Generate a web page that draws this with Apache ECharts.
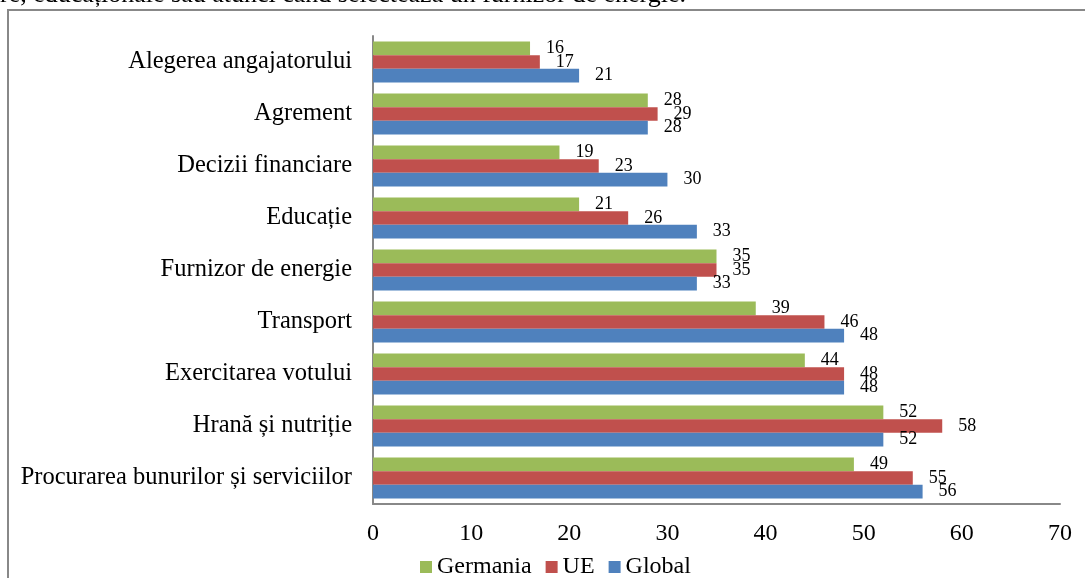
<!DOCTYPE html>
<html>
<head>
<meta charset="utf-8">
<script src="https://cdn.jsdelivr.net/npm/echarts@6/dist/echarts.min.js"></script>
<style>
  html, body { margin: 0; padding: 0; background: #fff; }
  #chart { width: 1085px; height: 578px; }
</style>
</head>
<body>
<div id="chart"></div>
<script>
// categories, top to bottom
const categories = [
    'Alegerea angajatorului',
    'Agrement',
    'Decizii financiare',
    'Educație',
    'Furnizor de energie',
    'Transport',
    'Exercitarea votului',
    'Hrană și nutriție',
    'Procurarea bunurilor și serviciilor'
];
const germania = [16, 28, 19, 21, 35, 39, 44, 52, 49];
const ue = [17, 29, 23, 26, 35, 46, 48, 58, 55];
const globalVals = [21, 28, 30, 33, 33, 48, 48, 52, 56];
const xTicks = [0, 10, 20, 30, 40, 50, 60, 70];

const serif = '"Liberation Serif", "DejaVu Serif", serif';

const chart = echarts.init(document.getElementById('chart'));

function barSeries(name, data, color) {
    return {
        name: name,
        type: 'bar',
        data: data,
        barCategoryGap: '21%',
        barGap: '0%',
        itemStyle: { color: color },
        label: {
            show: true,
            position: 'right',
            distance: 16,
            color: '#000',
            fontFamily: serif,
            fontSize: 18
        }
    };
}

chart.setOption({
    animation: false,
    textStyle: { fontFamily: serif },
    grid: { left: 373, right: 25, top: 36, bottom: 74 },
    legend: {
        bottom: -6,
        left: 415,
        itemWidth: 12,
        itemHeight: 12,
        itemGap: 14,
        icon: 'rect',
        textStyle: { fontFamily: serif, fontSize: 24, color: '#000' },
        data: ['Germania', 'UE', 'Global']
    },
    xAxis: {
        type: 'value',
        min: xTicks[0],
        max: xTicks[xTicks.length - 1],
        interval: 10,
        axisLine: { show: true, lineStyle: { color: '#888', width: 2 } },
        axisTick: { show: false },
        splitLine: { show: false },
        axisLabel: { color: '#000', fontSize: 24, margin: 18, fontFamily: serif }
    },
    yAxis: {
        type: 'category',
        inverse: true,
        data: categories,
        axisLine: { show: true, lineStyle: { color: '#888', width: 2 } },
        axisTick: { show: false },
        axisLabel: { color: '#000', fontSize: 24.5, margin: 21, fontFamily: serif }
    },
    graphic: [
        {
            type: 'rect',
            shape: { x: 8, y: 10, width: 1082, height: 600 },
            style: { fill: 'none', stroke: '#888', lineWidth: 2 },
            silent: true
        },
        {
            type: 'text',
            left: 0,
            top: -18,
            style: {
                text: 're, educaționale sau atunci când selectează un furnizor de energie.',
                font: '26px ' + serif,
                fill: '#000'
            }
        }
    ],
    series: [
        barSeries('Germania', germania, '#9BBB59'),
        barSeries('UE', ue, '#C0504D'),
        barSeries('Global', globalVals, '#4F81BD')
    ]
});
</script>
</body>
</html>
